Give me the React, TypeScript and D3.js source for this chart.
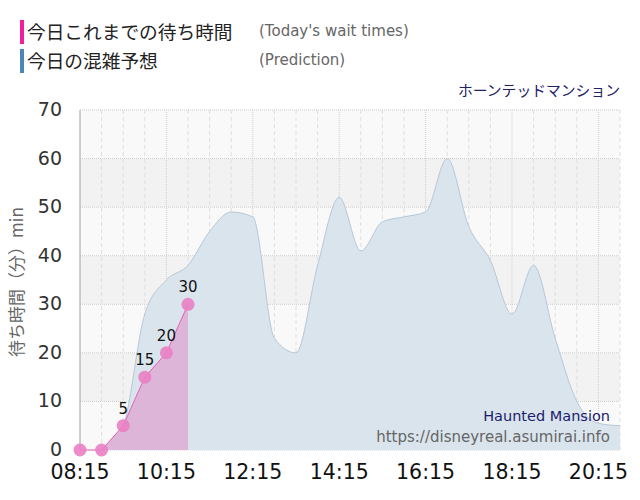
import * as d3 from "d3"
import { useRef, useEffect } from "react"

// today's wait times (actual)
const waitTimes = ["08:15", "08:45", "09:15", "09:45", "10:15", "10:45"]
const waitValues = [0, 0, 5, 15, 20, 30]

// predicted wait times
const predTimes = [
  "08:45", "09:15", "09:45", "10:15", "10:45", "11:15", "11:45", "12:15", "12:45",
  "13:15", "13:45", "14:15", "14:45", "15:15", "15:45", "16:15", "16:45", "17:15",
  "17:45", "18:15", "18:45", "19:15", "19:45", "20:15", "20:45",
]
const predValues = [
  0, 5, 28, 35, 38, 45, 49, 48, 23,
  20, 38, 52, 41, 47, 48, 49, 60, 46,
  39, 28, 38, 23, 10, 5.5, 5,
]

const xTickLabels = ["08:15", "10:15", "12:15", "14:15", "16:15", "18:15", "20:15"]
const yTicks = [0, 10, 20, 30, 40, 50, 60, 70]

const toMin = (t: string) => {
  const [h, m] = t.split(":").map(Number)
  return h * 60 + m
}

const LATIN = "'DejaVu Sans', Verdana, sans-serif"
const JP = "'Noto Sans CJK JP', sans-serif"

export default function App() {
  const svgRef = useRef<SVGSVGElement>(null)

  useEffect(() => {
    if (!svgRef.current) return
    const width = 640
    const height = 500
    const margin = { top: 110, right: 20, bottom: 50, left: 80 }

    const svg = d3.select(svgRef.current)
    svg.selectAll("*").remove()
    svg.attr("width", width).attr("height", height)

    const x = d3
      .scaleLinear()
      .domain([toMin("08:15"), toMin("20:45")])
      .range([margin.left, width - margin.right])
    const y = d3
      .scaleLinear()
      .domain([0, 70])
      .range([height - margin.bottom, margin.top])

    // alternating background bands
    svg
      .append("g")
      .selectAll("rect")
      .data(d3.range(0, 70, 10))
      .enter()
      .append("rect")
      .attr("x", margin.left)
      .attr("width", width - margin.right - margin.left)
      .attr("y", (d) => y(d + 10))
      .attr("height", (d) => y(d) - y(d + 10))
      .attr("fill", (d) => ((d / 10) % 2 === 0 ? "#f9f9f9" : "#f2f2f2"))

    // vertical grid every 30 min
    const gridMins = d3.range(toMin("08:15"), toMin("20:45") + 1, 30)
    const majorSet = new Set(xTickLabels.map(toMin))
    svg
      .append("g")
      .selectAll("line")
      .data(gridMins)
      .enter()
      .append("line")
      .attr("x1", (d) => x(d))
      .attr("x2", (d) => x(d))
      .attr("y1", margin.top)
      .attr("y2", height - margin.bottom)
      .attr("stroke", (d) => (majorSet.has(d) ? "#cfcfcf" : "#dedede"))
      .attr("stroke-width", 1)
      .attr("stroke-dasharray", (d) => (majorSet.has(d) ? "1,1" : "4,3"))

    // horizontal grid
    svg
      .append("g")
      .selectAll("line")
      .data(yTicks)
      .enter()
      .append("line")
      .attr("x1", margin.left)
      .attr("x2", width - margin.right)
      .attr("y1", (d) => y(d))
      .attr("y2", (d) => y(d))
      .attr("stroke", "#cccccc")
      .attr("stroke-dasharray", "1,1")

    // prediction area
    const pred = predTimes.map((t, i) => ({ m: toMin(t), v: predValues[i] }))
    const predArea = d3
      .area<{ m: number; v: number }>()
      .x((d) => x(d.m))
      .y0(y(0))
      .y1((d) => y(d.v))
      .curve(d3.curveMonotoneX)
    const predLine = d3
      .line<{ m: number; v: number }>()
      .x((d) => x(d.m))
      .y((d) => y(d.v))
      .curve(d3.curveMonotoneX)
    svg.append("path").datum(pred).attr("d", predArea).attr("fill", "#dae4ec")
    svg
      .append("path")
      .datum(pred)
      .attr("d", predLine)
      .attr("fill", "none")
      .attr("stroke", "#b7c8d6")
      .attr("stroke-width", 1)

    // today's wait times
    const wait = waitTimes.map((t, i) => ({ m: toMin(t), v: waitValues[i] }))
    const waitArea = d3
      .area<{ m: number; v: number }>()
      .x((d) => x(d.m))
      .y0(y(0))
      .y1((d) => y(d.v))
    svg.append("path").datum(wait).attr("d", waitArea).attr("fill", "#dcb5d8")
    svg
      .append("path")
      .datum(wait)
      .attr("d", d3.line<{ m: number; v: number }>().x((d) => x(d.m)).y((d) => y(d.v)))
      .attr("fill", "none")
      .attr("stroke", "#e660b4")
      .attr("stroke-width", 1)

    // axes lines
    svg
      .append("line")
      .attr("x1", margin.left)
      .attr("x2", margin.left)
      .attr("y1", margin.top)
      .attr("y2", height - margin.bottom)
      .attr("stroke", "#aaaaaa")

    // points + labels
    svg
      .append("g")
      .selectAll("circle")
      .data(wait)
      .enter()
      .append("circle")
      .attr("cx", (d) => x(d.m))
      .attr("cy", (d) => y(d.v))
      .attr("r", 6.5)
      .attr("fill", "#ea80c4")
      .attr("fill-opacity", 0.9)
    svg
      .append("g")
      .selectAll("text")
      .data(wait.filter((d) => d.v > 0))
      .enter()
      .append("text")
      .attr("x", (d) => x(d.m))
      .attr("y", (d) => y(d.v) - 12)
      .attr("text-anchor", "middle")
      .style("font-family", LATIN)
      .style("font-size", "15px")
      .style("fill", "#111")
      .text((d) => d.v)

    // y tick labels
    svg
      .append("g")
      .selectAll("text")
      .data(yTicks)
      .enter()
      .append("text")
      .attr("x", 62)
      .attr("y", (d) => y(d) + 6)
      .attr("text-anchor", "end")
      .style("font-family", LATIN)
      .style("font-size", "19px")
      .style("fill", "#333")
      .text((d) => d)

    // x tick labels
    svg
      .append("g")
      .selectAll("text")
      .data(xTickLabels)
      .enter()
      .append("text")
      .attr("x", (d) => x(toMin(d)))
      .attr("y", 479)
      .attr("text-anchor", "middle")
      .style("font-family", LATIN)
      .style("font-size", "20.5px")
      .style("fill", "#111")
      .text((d) => d)

    // y axis title
    svg
      .append("text")
      .attr("transform", `translate(23,282) rotate(-90)`)
      .attr("text-anchor", "middle")
      .style("font-family", JP)
      .style("font-size", "17px")
      .style("fill", "#666")
      .text("待ち時間（分）min")

    // legend
    const legend = [
      { color: "#f0209a", jp: "今日これまでの待ち時間", en: "(Today's wait times)", y: 20 },
      { color: "#4b86b8", jp: "今日の混雑予想", en: "(Prediction)", y: 49 },
    ]
    legend.forEach((l) => {
      svg.append("rect").attr("x", 20).attr("y", l.y).attr("width", 4).attr("height", 24).attr("fill", l.color)
      svg
        .append("text")
        .attr("x", 27)
        .attr("y", l.y + 19)
        .style("font-family", JP)
        .style("font-size", "18.7px")
        .style("fill", "#222")
        .text(l.jp)
      svg
        .append("text")
        .attr("x", 259)
        .attr("y", l.y + 16)
        .style("font-family", LATIN)
        .style("font-size", "15px")
        .style("fill", "#666")
        .text(l.en)
    })

    svg
      .append("text")
      .attr("x", 620)
      .attr("y", 96)
      .attr("text-anchor", "end")
      .style("font-family", JP)
      .style("font-size", "14.8px")
      .style("fill", "#222266")
      .text("ホーンテッドマンション")

    svg
      .append("text")
      .attr("x", 610)
      .attr("y", 421)
      .attr("text-anchor", "end")
      .style("font-family", LATIN)
      .style("font-size", "14.5px")
      .style("fill", "#1c1c6c")
      .text("Haunted Mansion")
    svg
      .append("text")
      .attr("x", 610)
      .attr("y", 442)
      .attr("text-anchor", "end")
      .style("font-family", LATIN)
      .style("font-size", "15px")
      .style("fill", "#666")
      .text("https://disneyreal.asumirai.info")
  }, [])

  return (
    <div style={{ position: "absolute", left: 0, top: 0, width: 640, height: 500, background: "#fff" }}>
      <svg ref={svgRef}></svg>
    </div>
  )
}
